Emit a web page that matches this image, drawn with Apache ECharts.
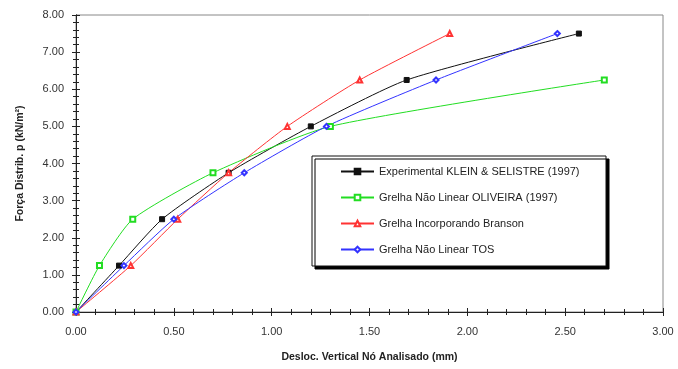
<!DOCTYPE html>
<html>
<head>
<meta charset="utf-8">
<script src="https://cdn.jsdelivr.net/npm/echarts@6/dist/echarts.min.js"></script>
<style>html,body{margin:0;padding:0;background:#fff;}#c{width:678px;height:369px;}</style>
</head>
<body>
<div id="c"></div>
<script>
// Data
var loads = [0, 1.25, 2.5, 3.75, 5.0, 6.25, 7.5];
var expX = [0, 0.22, 0.44, 0.78, 1.20, 1.69, 2.57];
var olivX = [0, 0.12, 0.29, 0.70, 1.30, 2.70];
var bransonX = [0, 0.28, 0.52, 0.78, 1.08, 1.45, 1.91];
var tosX = [0, 0.245, 0.50, 0.86, 1.28, 1.84, 2.46];
var seriesNames = ["Experimental KLEIN & SELISTRE (1997)", "Grelha Não Linear OLIVEIRA (1997)", "Grelha Incorporando Branson", "Grelha Não Linear TOS"];
var xTitle = "Desloc. Vertical Nó Analisado (mm)";
var yTitle = "Força Distrib. p (kN/m²)";

function pairs(xs) { return xs.map(function (x, i) { return [x, loads[i]]; }); }

var font = "Liberation Sans";
var chart = echarts.init(document.getElementById('c'), null, {renderer: 'canvas'});

function baseX(extra) {
  return Object.assign({
    type: 'value', min: 0, max: 3, interval: 0.5,
    axisLine: {show: true, onZero: false, lineStyle: {color: '#222', width: 1}},
    axisTick: {show: true, length: 4, lineStyle: {color: '#222'}},
    minorTick: {show: true, splitNumber: 5, length: 3, lineStyle: {color: '#222'}},
    splitLine: {show: false},
    axisLabel: {show: false}
  }, extra);
}
function baseY(extra) {
  return Object.assign({
    type: 'value', min: 0, max: 8, interval: 1,
    axisLine: {show: true, onZero: false, lineStyle: {color: '#222', width: 1}},
    axisTick: {show: true, length: 4, lineStyle: {color: '#222'}},
    minorTick: {show: true, splitNumber: 5, length: 3, lineStyle: {color: '#222'}},
    splitLine: {show: false},
    axisLabel: {show: false}
  }, extra);
}

var colors = ['#111111', '#22dd22', '#ff3333', '#3333ff'];
var symbols = ['rect', 'emptyRect', 'emptyTriangle', 'emptyDiamond'];
var datas = [pairs(expX), pairs(olivX), pairs(bransonX), pairs(tosX)];

chart.setOption({
  animation: false,
  backgroundColor: '#fff',
  grid: {left: 76, right: 15, top: 15, bottom: 57, show: true, borderColor: '#888', borderWidth: 1},
  xAxis: [
    baseX({
      position: 'bottom',
      axisLabel: {show: true, formatter: function (v) { return v.toFixed(2); }, color: '#333', fontFamily: font, fontSize: 11, margin: 14},
      name: xTitle, nameLocation: 'middle', nameGap: 40,
      nameTextStyle: {color: '#222', fontFamily: font, fontSize: 10.5, fontWeight: 'bold'}
    }),
    baseX({position: 'bottom', axisTick: {show: true, inside: true, length: 4, lineStyle: {color: '#222'}},
           minorTick: {show: true, splitNumber: 5, length: 3, lineStyle: {color: '#222'}}})
  ],
  yAxis: [
    baseY({
      position: 'left',
      axisLabel: {show: true, formatter: function (v) { return v.toFixed(2); }, color: '#333', fontFamily: font, fontSize: 11, margin: 12},
      name: yTitle, nameLocation: 'middle', nameGap: 50, nameRotate: 90,
      nameTextStyle: {color: '#222', fontFamily: font, fontSize: 10.5, fontWeight: 'bold'}
    }),
    baseY({position: 'left', axisTick: {show: true, inside: true, length: 4, lineStyle: {color: '#222'}}})
  ],
  graphic: [{
    type: 'rect', z: 3,
    shape: {x: 312, y: 156, width: 294, height: 110},
    style: {fill: '#fff', stroke: '#111', lineWidth: 1, shadowColor: '#000', shadowOffsetX: 3, shadowOffsetY: 3, shadowBlur: 0}
  }],
  legend: {
    orient: 'vertical', left: 335, top: 160, z: 5,
    itemWidth: 33, itemHeight: 7, itemGap: 13,
    textStyle: {color: '#222', fontFamily: font, fontSize: 11, lineHeight: 13},
    data: seriesNames
  },
  series: seriesNames.map(function (n, i) {
    return {
      name: n, type: 'line', xAxisIndex: 0, yAxisIndex: 0,
      data: datas[i],
      smooth: 0.2,
      symbol: symbols[i], symbolSize: 5, showSymbol: true,
      lineStyle: {color: colors[i], width: 1},
      itemStyle: {color: colors[i], borderColor: colors[i], borderWidth: 1}
    };
  })
});
</script>
</body>
</html>
